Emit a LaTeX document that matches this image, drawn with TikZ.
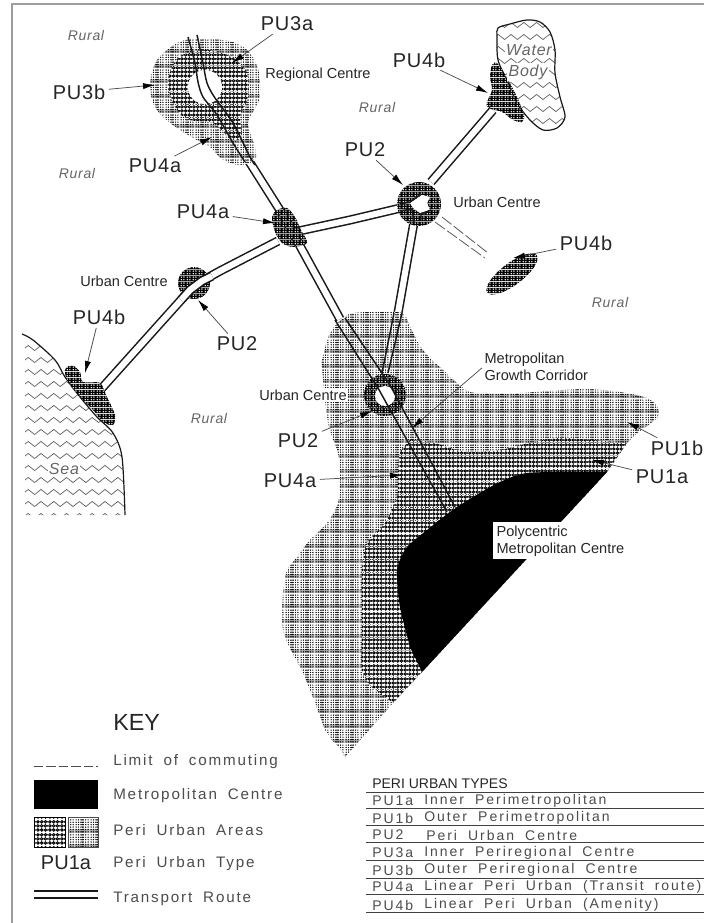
\documentclass[tikz,border=0pt]{standalone}
\usepackage{fontspec}
\setmainfont{Liberation Sans}
\newfontfamily\pufont[LetterSpace=4]{Liberation Sans}
\newfontfamily\cadfont[LetterSpace=12,WordSpace=1.8]{Liberation Sans}
\newfontfamily\tabfont[LetterSpace=14,WordSpace=1.9]{Liberation Sans}
\newfontfamily\ruralfont[LetterSpace=5]{Liberation Sans}
\usetikzlibrary{patterns,arrows.meta,decorations.pathmorphing}
\definecolor{bandgrey}{gray}{0.66}
\pgfdeclarepatterninherentlycolored{pulight}{\pgfpointorigin}{\pgfqpoint{11.25pt}{11.25pt}}{\pgfqpoint{11.25pt}{11.25pt}}{%
  \pgfsetfillcolor{white}\pgfpathrectangle{\pgfpointorigin}{\pgfqpoint{11.25pt}{11.25pt}}\pgfusepath{fill}%
  \pgfsetfillcolor{bandgrey}\pgfpathrectangle{\pgfqpoint{0pt}{0pt}}{\pgfqpoint{11.25pt}{2.8pt}}\pgfusepath{fill}%
  \pgfsetfillcolor{black}%
  \foreach \i in {0,...,5}{\foreach \j in {0,...,5}{%
    \pgfpathcircle{\pgfpoint{\i*1.875pt+0.9pt}{\j*1.875pt+0.9pt}}{0.56pt}}}%
  \pgfusepath{fill}%
  \foreach \j in {0,...,5}{\pgfpathcircle{\pgfpoint{5.6pt}{\j*1.875pt+0.9pt}}{0.66pt}}%
  \pgfusepath{fill}%
}
\pgfdeclarepatterninherentlycolored{pudark}{\pgfpointorigin}{\pgfqpoint{9pt}{9.75pt}}{\pgfqpoint{9pt}{9.75pt}}{%
  \pgfsetfillcolor{white}\pgfpathrectangle{\pgfpointorigin}{\pgfqpoint{9pt}{9.75pt}}\pgfusepath{fill}%
  \pgfsetstrokecolor{black}\pgfsetlinewidth{0.74pt}%
  \foreach \i in {0,1,2}{\foreach \j in {0,1,2}{%
    \pgfpathcircle{\pgfpoint{\i*3pt+1.5pt}{\j*3.25pt+1.6pt}}{0.98pt}%
    \pgfpathmoveto{\pgfpoint{\i*3pt+2.4pt}{\j*3.25pt+1.6pt}}%
    \pgfpathlineto{\pgfpoint{\i*3pt+3.6pt}{\j*3.25pt+1.6pt}}}}%
  \pgfusepath{stroke}%
}
\pgfdeclarepatterninherentlycolored{pudense}{\pgfpointorigin}{\pgfqpoint{4.5pt}{4.5pt}}{\pgfqpoint{4.5pt}{4.5pt}}{%
  \pgfsetfillcolor{black}\pgfpathrectangle{\pgfpointorigin}{\pgfqpoint{4.5pt}{4.5pt}}\pgfusepath{fill}%
  \pgfsetfillcolor{white}%
  \foreach \i in {0,1}{\foreach \j in {0,1}{%
    \pgfpathcircle{\pgfpoint{\i*2.25pt+1.1pt}{\j*2.25pt+1.1pt}}{0.66pt}}}%
  \pgfusepath{fill}%
}
\tikzset{
  road/.style={line width=1.15pt,double=white,double distance=4.6pt,black!90},
  edgeline/.style={line width=1.1pt,black!90,line join=round},
  lightarea/.style={pattern=pulight},
  darkarea/.style={pattern=pudark},
  densearea/.style={pattern=pudense},
  leader/.style={draw=black!70,line width=.55pt,-{Latex[length=9pt,width=4.6pt,black]},shorten <=1pt},
  pulabel/.style={font=\pufont\fontsize{15}{15}\selectfont,text=black!85,inner sep=1.5pt},
  placelabel/.style={font=\fontsize{10.9}{12.75}\selectfont,text=black!85,inner sep=1pt},
  rural/.style={font=\ruralfont\itshape\fontsize{10.5}{12}\selectfont,text=black!60,inner sep=1pt},
  waterlabel/.style={font=\ruralfont\itshape\fontsize{12}{13}\selectfont,text=black!60,inner sep=1pt,fill=white},
  wave/.style={draw=black!60,line width=.55pt,decorate,decoration={zigzag,segment length=9.6pt,amplitude=1.9pt}},
  keytext/.style={font=\cadfont\fontsize{11.4}{12}\selectfont,text=black!70,anchor=west,inner sep=0pt},
  tabletext/.style={font=\tabfont\fontsize{10.5}{11}\selectfont,text=black!70,anchor=west,inner sep=0pt},
  tableline/.style={line width=.7pt,draw=black!75},
  frameline/.style={draw=black!38,line width=1.2pt},
}
\begin{document}
\begin{tikzpicture}[x=.75pt,y=-.75pt]
\useasboundingbox (0,0) rectangle (704,923);
\fill[white] (0,0) rectangle (704,923);
\draw[frameline] (704,4) -- (12,4) -- (12,923);

% sea
\begin{scope}
\clip (25,338) -- (22,338) -- plot[smooth] coordinates {(33,340) (55,360) (65,377) (80,397) (97,417) (113,433) (122,457) (125,515)} -- (25,515) -- cycle;
\foreach \r in {0,...,14}{\draw[wave] (25,348+12*\r) -- (140,348+12*\r);}
\end{scope}
\draw[edgeline,line width=.9pt] plot[smooth] coordinates {(22,334) (33,340) (55,360) (65,377) (80,397) (97,417) (113,433) (122,457) (125,515)};
% water body
\begin{scope}
\clip plot[smooth cycle] coordinates {(497,37) (498,28) (510,24) (527,20) (540,22) (550,32) (555,50) (555,73) (560,97) (565,117) (557,128) (543,130) (530,120) (517,103) (507,80) (498,60)};
\foreach \r in {0,...,9}{\draw[wave] (495,25+12*\r) -- (570,25+12*\r);}
\end{scope}
\draw[edgeline,line width=.9pt] plot[smooth cycle] coordinates {(497,37) (498,28) (510,24) (527,20) (540,22) (550,32) (555,50) (555,73) (560,97) (565,117) (557,128) (543,130) (530,120) (517,103) (507,80) (498,60)};

% roads outside the peri urban areas
\draw[road] (278,241) -- (220,271) -- (202,281) -- (190,290) -- (102,388);
\draw[road] (245,155) -- (283,215) -- (340,319);
\draw[road] (285,234) -- (350,220) -- (405,207);
\draw[road] (431,182) -- (493,110);
\draw[road] (414,222) -- (398,313);
\draw[black!65,line width=.6pt,dash pattern=on 9pt off 2.2pt] (442,217) -- (488,253);
\draw[black!65,line width=.6pt,dash pattern=on 9pt off 2.2pt] (435,222) -- (485,258);

% metropolitan areas
\fill[lightarea] (607,472) -- (422,672) -- (393,703) -- (363,737) -- (345,757) -- (340,748) -- (332,740) -- plot[smooth] coordinates {(325,730) (315,703) (303,673) (283,630) (285,577) (297,557) (310,540) (327,523) (338,503) (340,477) (338,453) (328,423) (322,367) (323,357) (330,333) (347,315) (370,312) (402,313) (410,327) (423,350) (443,370) (457,383) (470,392) (487,393) (520,393) (547,391) (587,389) (620,392) (647,398) (658,408) (657,418) (637,433)} -- (627,443) -- cycle;
\fill[darkarea] (627,443) -- (607,472) -- (422,672) -- (393,703) -- plot[smooth] coordinates {(372,687) (362,670) (362,630) (362,570) (367,543) (385,523) (397,497) (398,477) (400,453) (410,440)} -- plot[smooth] coordinates {(433,442) (447,447) (467,452) (500,450) (533,442) (560,438) (593,440)} -- cycle;
\fill[black] (607,472) -- (422,672) -- plot[smooth] coordinates {(410,647) (400,607) (397,577) (398,565) (407,547) (427,530) (450,512) (473,497) (500,482) (527,473) (577,472)} -- cycle;
% urban centre in the corridor
\fill[densearea] (385,395) circle (21);
\fill[white] (385,396) ellipse (10 and 10);
% road lines through the metropolitan area
\draw[edgeline] (335,320) -- (378,388) -- (447,512);
\draw[edgeline] (345,318) -- (390,385) -- (455,507);
\draw[edgeline] (394,313) -- (382,373);
\draw[edgeline] (402,313) -- (388,373);

% regional centre
\fill[lightarea] plot[smooth cycle] coordinates {(177,43) (200,38) (233,42) (250,53) (259,73) (259,100) (248,123) (255,147) (255,160) (240,165) (223,160) (210,147) (197,140) (180,130) (163,117) (153,103) (150,83) (157,60)};
\fill[darkarea] plot[smooth cycle] coordinates {(182,55) (207,50) (232,57) (247,73) (248,97) (240,117) (242,133) (233,140) (213,123) (190,120) (177,110) (168,87) (172,67)};
\fill[white] (205,87) circle (17);
\draw[edgeline] plot[smooth] coordinates {(188,37) (195,63) (198,82) (203,97) (217,115) (233,143) (245,162)};
\draw[edgeline] plot[smooth] coordinates {(197,35) (203,63) (207,83) (215,98) (233,123) (250,157) (255,165)};

% blobs
\fill[densearea] plot[smooth cycle] coordinates {(277,210) (287,208) (295,217) (301,230) (307,243) (293,247) (282,243) (275,232) (272,217)};
\fill[densearea] (194,283) circle (16);
\draw[road] (212,276) -- (202,281) -- (190,290) -- (181,300);
\fill[densearea] (419,204) circle (22);
\fill[white] (410,203) -- (422,195) -- (430,197) -- (427,203) -- (430,210) -- (420,213) -- (413,208) -- cycle;
\draw[edgeline] (400,204) -- (410,202) -- (421,194);
\draw[edgeline] (400,211) -- (412,209) -- (414,222);
\draw[edgeline] (421,221) -- (421,214) -- (431,210);
\fill[densearea] plot[smooth cycle] coordinates {(492,65) (497,63) (507,78) (517,97) (524,115) (522,122) (513,120) (502,112) (488,108) (487,102) (492,90) (490,77)};
\fill[densearea] [rotate around={37:(512,274)}] (512,274) ellipse (31 and 11);
\fill[densearea] plot[smooth cycle] coordinates {(65,370) (72,365) (80,372) (83,382) (100,383) (107,397) (115,415) (113,425) (103,422) (93,410) (80,397) (68,382)};

% labels
\node[rural] (r1) at (86,36) {Rural};
\node[rural] (r2) at (377,107) {Rural};
\node[rural] (r3) at (77,173) {Rural};
\node[rural] (r4) at (610,302) {Rural};
\node[rural] (r5) at (209,418) {Rural};
\node[waterlabel] (wb1) at (529,50) {Water};
\node[waterlabel] (wb2) at (528,72) {Body};
\node[waterlabel] (sea) at (64,469) {Sea};

\node[placelabel] (rc) at (318,75) {Regional Centre};
\node[placelabel] (uc1) at (497,202) {Urban Centre};
\node[placelabel] (uc2) at (124,281) {Urban Centre};
\node[placelabel,fill=white] (uc3) at (303,395) {Urban Centre};
\node[placelabel,align=left,anchor=west] (mgc) at (483,367) {Metropolitan\\Growth Corridor};
\node[placelabel,align=left,anchor=north west,fill=white,inner sep=2.5pt] (pmc) at (493,522) {Polycentric\\Metropolitan Centre};

\coordinate (t3a) at (232,63);
\coordinate (t3b) at (155,85);
\coordinate (t4a1) at (212,137);
\coordinate (t4a2) at (275,223);
\coordinate (t2a) at (403,185);
\coordinate (t4b1) at (488,93);
\coordinate (t4b2) at (513,258);
\coordinate (t2b) at (198,300);
\coordinate (t4b3) at (85,373);
\coordinate (t2c) at (372,411);
\coordinate (t4a3) at (402,475);
\coordinate (tmgc) at (412,428);
\coordinate (t1b) at (627,422);
\coordinate (t1a) at (592,460);

\node[pulabel] (l3a) at (287,24) {PU3a};
\node[pulabel] (l3b) at (79,92) {PU3b};
\node[pulabel] (l4a1) at (155,166) {PU4a};
\node[pulabel] (l4a2) at (203,212) {PU4a};
\node[pulabel] (l2a) at (365,150) {PU2};
\node[pulabel] (l4b1) at (419,60) {PU4b};
\node[pulabel] (l4b2) at (586,243) {PU4b};
\node[pulabel] (l2b) at (237,344) {PU2};
\node[pulabel] (l4b3) at (99,317) {PU4b};
\node[pulabel] (l2c) at (298,441) {PU2};
\node[pulabel] (l4a3) at (290,481) {PU4a};
\node[pulabel] (l1b) at (677,448) {PU1b};
\node[pulabel] (l1a) at (662,477) {PU1a};

\draw[leader] (l3a) -- (t3a);
\draw[leader] (l3b) -- (t3b);
\draw[leader] (l4a1) -- (t4a1);
\draw[leader] (l4a2) -- (t4a2);
\draw[leader] (l2a) -- (t2a);
\draw[leader] (l4b1) -- (t4b1);
\draw[leader] (l4b2) -- (t4b2);
\draw[leader] (l2b) -- (t2b);
\draw[leader] (l4b3) -- (t4b3);
\draw[leader] (l2c) -- (t2c);
\draw[leader] (l4a3) -- (t4a3);
\draw[leader] (mgc.west) -- (tmgc);
\draw[leader] (l1b) -- (t1b);
\draw[leader] (l1a) -- (t1a);

% key
\node[font=\fontsize{17.5}{18}\selectfont,text=black!85,inner sep=0pt,anchor=west] (keyt) at (113,722) {KEY};
\draw[black!70,line width=.7pt,dash pattern=on 7pt off 2.3pt] (34,766) -- (98,766);
\fill[black] (34,780) rectangle (98,809);
\fill[darkarea,draw=black,line width=.4pt] (34,817) rectangle (65,847);
\fill[lightarea,draw=black!70,line width=.4pt] (68,817) rectangle (98,847);
\node[pulabel,font=\fontsize{15}{15}\selectfont,anchor=center] (keypu) at (66,863) {PU1a};
\draw[edgeline,line width=.9pt] (34,891) -- (98,891);
\draw[edgeline,line width=.9pt] (34,898) -- (98,898);
\node[keytext] (k1) at (113,762) {Limit of commuting};
\node[keytext] (k2) at (113,796) {Metropolitan Centre};
\node[keytext] (k3) at (113,830) {Peri Urban Areas};
\node[keytext] (k4) at (113,864) {Peri Urban Type};
\node[keytext] (k5) at (113,899) {Transport Route};

% table
\node[font=\fontsize{10.5}{11}\selectfont,text=black!85,anchor=west,inner sep=0pt] (th) at (372,784) {PERI URBAN TYPES};
\foreach \y in {792,808,825,842,860,878,894,912}{\draw[tableline] (366,\y) -- (704,\y);}
\node[tabletext] (c1) at (372,801) {PU1a};
\node[tabletext] (d1) at (424,801) {Inner Perimetropolitan};
\node[tabletext] (c2) at (372,818) {PU1b};
\node[tabletext] (d2) at (424,818) {Outer Perimetropolitan};
\node[tabletext] (c3) at (372,835) {PU2};
\node[tabletext] (d3) at (426,835) {Peri Urban Centre};
\node[tabletext] (c4) at (372,853) {PU3a};
\node[tabletext] (d4) at (424,853) {Inner Periregional Centre};
\node[tabletext] (c5) at (372,870) {PU3b};
\node[tabletext] (d5) at (424,870) {Outer Periregional Centre};
\node[tabletext] (c6) at (372,887) {PU4a};
\node[tabletext] (d6) at (424,887) {Linear Peri Urban (Transit route)};
\node[tabletext] (c7) at (372,905) {PU4b};
\node[tabletext] (d7) at (424,905) {Linear Peri Urban (Amenity)};
\end{tikzpicture}
\end{document}
